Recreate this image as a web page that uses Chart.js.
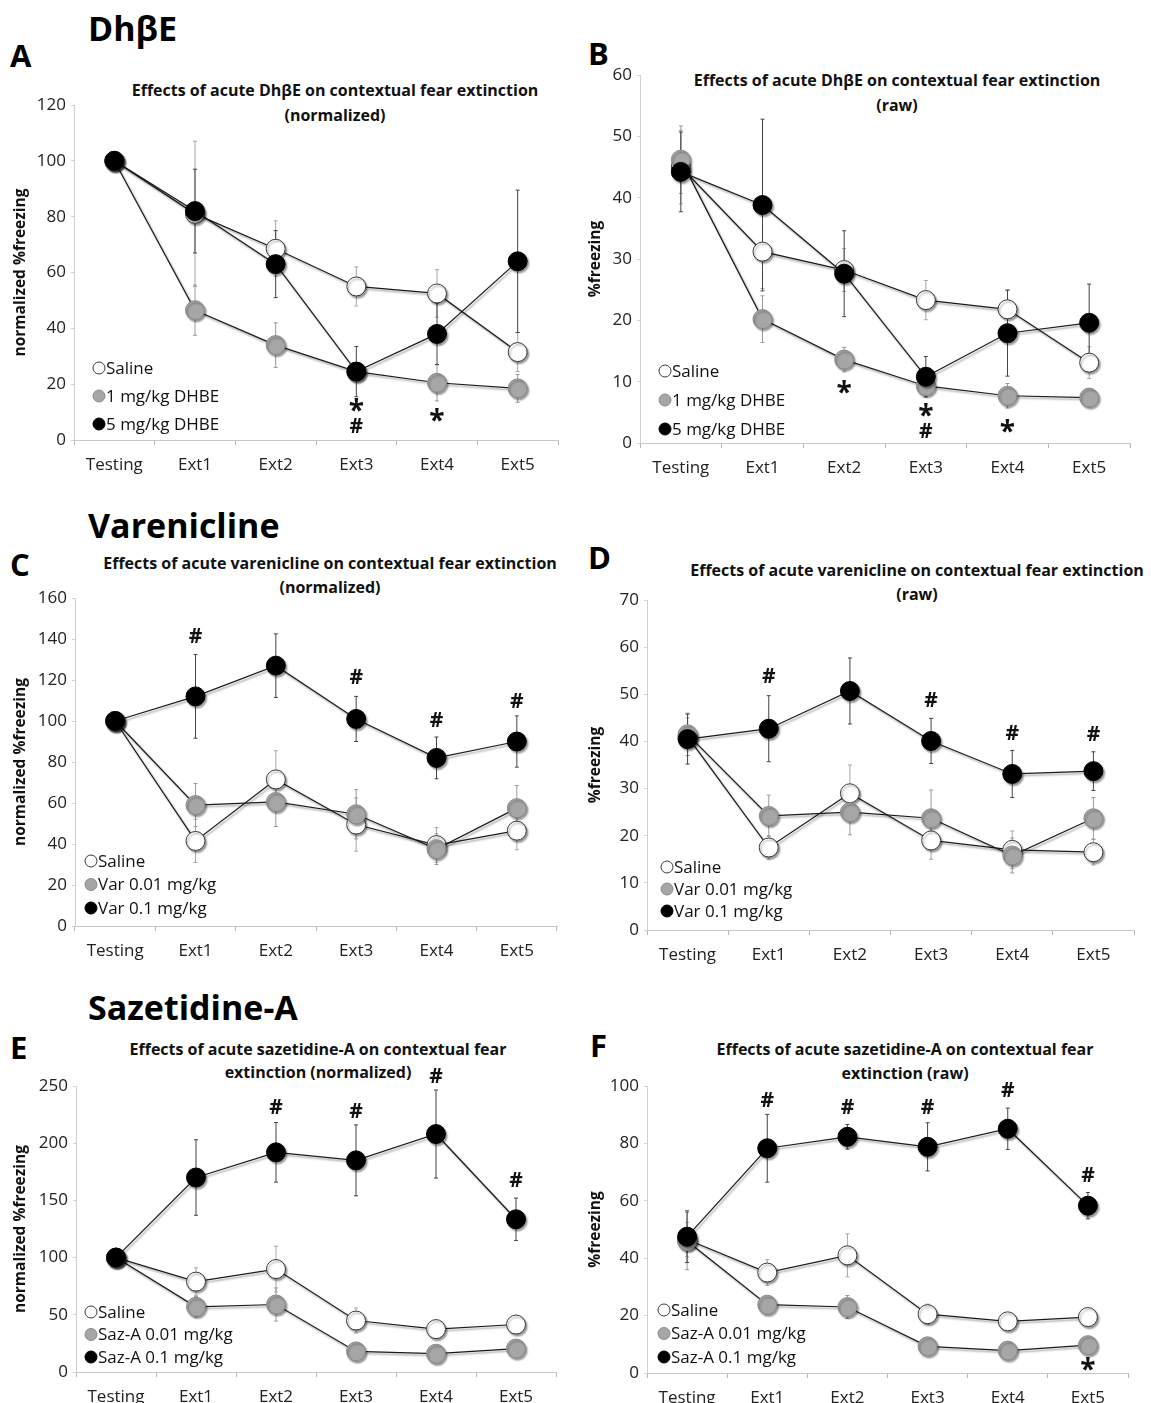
<!DOCTYPE html>
<html>
<head>
<meta charset="utf-8">
<script src="https://cdn.jsdelivr.net/npm/chart.js@4/dist/chart.umd.min.js"></script>
<style>
  body { margin: 0; background: #fff; font-family: "Open Sans", sans-serif; }
  #page { position: relative; width: 1151px; height: 1403px; overflow: hidden; }
  .cv { position: absolute; }
  .txt { position: absolute; white-space: nowrap; color: #000; }
  .head { font-weight: bold; font-size: 34px; transform: translateY(-50%); }
  .letter { font-weight: bold; font-size: 31px; transform: translateY(-50%); }
  .ttl { font-weight: bold; font-size: 16px; transform: translate(-50%, -50%); text-align: center; color: #111; }
</style>
</head>
<body>
<div id="page">
  <div class="txt head" style="left:88px;top:28px">DhβE</div>
  <div class="txt letter" style="left:10px;top:55px">A</div>
  <div class="txt letter" style="left:588px;top:53px">B</div>
  <div class="txt head" style="left:88px;top:525px">Varenicline</div>
  <div class="txt letter" style="left:10px;top:564px">C</div>
  <div class="txt letter" style="left:588px;top:557px">D</div>
  <div class="txt head" style="left:88px;top:1007px">Sazetidine-A</div>
  <div class="txt letter" style="left:10px;top:1047px">E</div>
  <div class="txt letter" style="left:590px;top:1045px">F</div>

  <div class="txt ttl" style="left:335px;top:90px">Effects of acute DhβE on contextual fear extinction</div>
  <div class="txt ttl" style="left:335px;top:115px">(normalized)</div>
  <div class="txt ttl" style="left:897px;top:80px">Effects of acute DhβE on contextual fear extinction</div>
  <div class="txt ttl" style="left:897px;top:105px">(raw)</div>
  <div class="txt ttl" style="left:330px;top:563px">Effects of acute varenicline on contextual fear extinction</div>
  <div class="txt ttl" style="left:330px;top:587px">(normalized)</div>
  <div class="txt ttl" style="left:917px;top:570px">Effects of acute varenicline on contextual fear extinction</div>
  <div class="txt ttl" style="left:917px;top:594px">(raw)</div>
  <div class="txt ttl" style="left:318px;top:1049px">Effects of acute sazetidine-A on contextual fear</div>
  <div class="txt ttl" style="left:318px;top:1072px">extinction (normalized)</div>
  <div class="txt ttl" style="left:905px;top:1049px">Effects of acute sazetidine-A on contextual fear</div>
  <div class="txt ttl" style="left:905px;top:1073px">extinction (raw)</div>

  <canvas id="chartA" class="cv"></canvas>
  <canvas id="chartB" class="cv"></canvas>
  <canvas id="chartC" class="cv"></canvas>
  <canvas id="chartD" class="cv"></canvas>
  <canvas id="chartE" class="cv"></canvas>
  <canvas id="chartF" class="cv"></canvas>
</div>
<script>
// sessions on the x axis
const sessions = ['Testing', 'Ext1', 'Ext2', 'Ext3', 'Ext4', 'Ext5'];

// --- A: DhBE normalized
const salineA = [100, 81, 68.5, 55, 52.5, 31.5];
const salineAErr = [0, 26, 10, 7, 8.5, 7];
const dhbe1A = [100, 46.5, 34, 24.5, 20.5, 18.5];
const dhbe1AErr = [0, 9, 8, 3, 6.5, 5];
const dhbe5A = [100, 82, 63, 24.5, 38, 64];
const dhbe5AErr = [0, 15, 12, 9, 11, 25.5];
const marksA = [['Ext3', '*', 11.7], ['Ext3', '#', 4.8], ['Ext4', '*', 8.1]];

// --- B: DhBE raw
const salineB = [45, 31.2, 28.2, 23.3, 21.8, 13.1];
const salineBErr = [6, 6, 3.5, 3.2, 3.2, 2.6];
const dhbe1B = [46.2, 20.2, 13.6, 9.3, 7.7, 7.4];
const dhbe1BErr = [5.5, 3.8, 2, 1.5, 2, 1.5];
const dhbe5B = [44.2, 38.8, 27.6, 10.8, 17.9, 19.6];
const dhbe5BErr = [6.5, 14, 7, 3.3, 7, 6.3];
const marksB = [['Ext2', '*', 8.8], ['Ext3', '*', 5], ['Ext3', '#', 1.8], ['Ext4', '*', 2.4]];

// --- C: varenicline normalized
const salineC = [100, 41.5, 71.5, 49.5, 39.5, 46.5];
const salineCErr = [0, 10.5, 14, 13, 8.5, 9.3];
const var001C = [100, 59, 60.5, 54.5, 37.5, 57.5];
const var001CErr = [0, 10.5, 12, 12, 7.5, 11];
const var01C = [100, 112, 127, 101, 82, 90];
const var01CErr = [0, 20.4, 15.5, 11, 10.2, 12.5];
const marksC = [['Ext1', '#', 141], ['Ext3', '#', 121], ['Ext4', '#', 100], ['Ext5', '#', 109.5]];

// --- D: varenicline raw
const salineD = [41, 17.5, 29, 19, 17, 16.5];
const salineDErr = [4, 2.5, 6, 4, 4, 2.7];
const var001D = [41.5, 24.2, 25, 23.7, 15.8, 23.7];
const var001DErr = [4.5, 4.4, 4.8, 6, 3.7, 4.4];
const var01D = [40.5, 42.7, 50.7, 40.1, 33.1, 33.7];
const var01DErr = [5.3, 7, 7, 4.8, 5, 4.1];
const marksD = [['Ext1', '#', 53.7], ['Ext3', '#', 48.5], ['Ext4', '#', 41.5], ['Ext5', '#', 41.3]];

// --- E: sazetidine-A normalized
const salineE = [100, 79, 90, 45, 37.5, 41.5];
const salineEErr = [0, 12, 20, 11, 3, 3];
const saz001E = [100, 57, 59, 18, 16, 20.5];
const saz001EErr = [0, 9, 14.5, 3, 3, 3];
const saz01E = [100, 170, 192, 185, 208, 133.5];
const saz01EErr = [0, 33, 26, 31, 38.5, 18.5];
const marksE = [['Ext2', '#', 230.5], ['Ext3', '#', 227.5], ['Ext4', '#', 258], ['Ext5', '#', 167]];

// --- F: sazetidine-A raw
const salineF = [46.5, 35, 41, 20.5, 18, 19.5];
const salineFErr = [6, 4.5, 7.5, 3.5, 3, 1.5];
const saz001F = [46, 23.8, 23, 9.3, 7.8, 9.7];
const saz001FErr = [10, 2, 4, 2.5, 3, 2.5];
const saz01F = [47.5, 78.3, 82.3, 78.8, 85.1, 58.3];
const saz01FErr = [9, 11.8, 4.3, 8.4, 7.2, 4.6];
const marksF = [['Ext1', '#', 94.8], ['Ext2', '#', 92.4], ['Ext3', '#', 92.4], ['Ext4', '#', 98.3], ['Ext5', '#', 68.6], ['Ext5', '*', 2.3]];

const FONT = '"Open Sans", sans-serif';
const styles = [
    { fill: '#ffffff', border: '#3a3a3a', err: '#a8a8a8' },
    { fill: '#a6a6a6', border: '#8a8a8a', err: '#9a9a9a' },
    { fill: '#000000', border: '#000000', err: '#444444' }
];

// error bars under the markers, soft shadow on each series
const errorBarPlugin = {
    id: 'errorBars',
    beforeDatasetsDraw(chart) {
        const ctx = chart.ctx;
        const y = chart.scales.y;
        chart.data.datasets.forEach((ds, di) => {
            const meta = chart.getDatasetMeta(di);
            ctx.save();
            ctx.strokeStyle = ds.errColor;
            ctx.lineWidth = 1;
            meta.data.forEach((pt, i) => {
                const e = ds.errors[i];
                if (!e) return;
                const top = y.getPixelForValue(ds.data[i] + e);
                const bot = y.getPixelForValue(ds.data[i] - e);
                ctx.beginPath();
                ctx.moveTo(pt.x, top); ctx.lineTo(pt.x, bot);
                ctx.moveTo(pt.x - 2, top); ctx.lineTo(pt.x + 2, top);
                ctx.moveTo(pt.x - 2, bot); ctx.lineTo(pt.x + 2, bot);
                ctx.stroke();
            });
            ctx.restore();
        });
    },
    beforeDatasetDraw(chart) {
        const ctx = chart.ctx;
        ctx.save();
        ctx.shadowColor = 'rgba(0,0,0,0.4)';
        ctx.shadowOffsetX = 1.5;
        ctx.shadowOffsetY = 2;
        ctx.shadowBlur = 2;
    },
    afterDatasetDraw(chart) {
        chart.ctx.restore();
    }
};

// * and # significance marks
const sigPlugin = {
    id: 'sigMarks',
    afterDatasetsDraw(chart, args, opts) {
        const ctx = chart.ctx;
        const x = chart.scales.x, y = chart.scales.y;
        ctx.save();
        ctx.fillStyle = '#111';
        ctx.textAlign = 'center';
        ctx.textBaseline = 'middle';
        (opts.marks || []).forEach(([cat, sym, v]) => {
            ctx.font = sym === '*' ? 'bold 28px ' + FONT : 'bold 21px ' + FONT;
            const dy = sym === '*' ? 5 : 0;
            ctx.fillText(sym, x.getPixelForValue(sessions.indexOf(cat)), y.getPixelForValue(v) + dy);
        });
        ctx.restore();
    }
};

// legend drawn inside the plot, bottom-left
const innerLegendPlugin = {
    id: 'innerLegend',
    afterDraw(chart, args, opts) {
        const ctx = chart.ctx;
        ctx.save();
        ctx.font = '17px ' + FONT;
        ctx.textBaseline = 'middle';
        chart.data.datasets.forEach((ds, i) => {
            const cy = opts.y + i * opts.gap;
            ctx.beginPath();
            ctx.arc(opts.x, cy, 6, 0, Math.PI * 2);
            ctx.fillStyle = ds.pointBackgroundColor;
            ctx.fill();
            ctx.lineWidth = 1;
            ctx.strokeStyle = ds.pointBorderColor;
            ctx.stroke();
            ctx.fillStyle = '#111';
            ctx.fillText(ds.label, opts.x + 7, cy + 1);
        });
        ctx.restore();
    }
};

function buildPanel(id, box, area, yMax, yStep, yTitle, names, series, errs, marks, legend) {
    const canvas = document.getElementById(id);
    canvas.style.left = box.x + 'px';
    canvas.style.top = box.y + 'px';
    canvas.width = box.w;
    canvas.height = box.h;

    const datasets = names.map((name, i) => ({
        label: name,
        data: series[i],
        errors: errs[i],
        errColor: styles[i].err,
        borderColor: '#1a1a1a',
        borderWidth: 1.2,
        pointRadius: 9.5,
        pointHoverRadius: 9.5,
        pointBackgroundColor: styles[i].fill,
        pointBorderColor: styles[i].border,
        pointBorderWidth: 1,
        order: 3 - i,
        tension: 0
    }));

    return new Chart(canvas, {
        type: 'line',
        data: { labels: sessions, datasets },
        plugins: [errorBarPlugin, sigPlugin, innerLegendPlugin],
        options: {
            responsive: false,
            animation: false,
            clip: false,
            layout: {
                padding: { left: 0, top: area.t - box.y, right: box.x + box.w - area.r, bottom: 0 }
            },
            plugins: {
                legend: { display: false },
                tooltip: { enabled: false },
                sigMarks: { marks },
                innerLegend: legend
            },
            scales: {
                x: {
                    offset: true,
                    grid: { offset: true, drawOnChartArea: false, drawTicks: true, tickLength: 5, color: '#b5b5b5' },
                    border: { color: '#c8c8c8', width: 1 },
                    ticks: { color: '#222', font: { family: FONT, size: 17 }, padding: 10, maxRotation: 0 },
                    afterFit: s => { s.height = box.y + box.h - area.b; }
                },
                y: {
                    min: 0,
                    max: yMax,
                    grid: { drawOnChartArea: false, drawTicks: true, tickLength: 3, color: '#d0d0d0' },
                    border: { color: '#d0d0d0', width: 1 },
                    ticks: { stepSize: yStep, color: '#222', font: { family: FONT, size: 17 }, padding: 5 },
                    title: {
                        display: true,
                        text: yTitle,
                        color: '#111',
                        font: { family: FONT, size: 15.5, weight: 'bold' },
                        padding: { top: 11, bottom: 0 }
                    },
                    afterFit: s => { s.width = area.l - box.x; }
                }
            }
        }
    });
}

document.fonts.load('15px "Open Sans"').then(() => document.fonts.load('bold 15px "Open Sans"')).finally(() => {
    buildPanel('chartA', { x: 0, y: 60, w: 575, h: 430 }, { l: 74, t: 105, r: 558, b: 440 },
        120, 20, 'normalized %freezing',
        ['Saline', '1 mg/kg DHBE', '5 mg/kg DHBE'],
        [salineA, dhbe1A, dhbe5A], [salineAErr, dhbe1AErr, dhbe5AErr], marksA,
        { x: 99, y: 308, gap: 28 });

    buildPanel('chartB', { x: 575, y: 40, w: 576, h: 450 }, { l: 640, t: 75, r: 1130, b: 443 },
        60, 10, '%freezing',
        ['Saline', '1 mg/kg DHBE', '5 mg/kg DHBE'],
        [salineB, dhbe1B, dhbe5B], [salineBErr, dhbe1BErr, dhbe5BErr], marksB,
        { x: 90, y: 331, gap: 29 });

    buildPanel('chartC', { x: 0, y: 560, w: 575, h: 410 }, { l: 75, t: 598, r: 557, b: 926 },
        160, 20, 'normalized %freezing',
        ['Saline', 'Var 0.01 mg/kg', 'Var 0.1 mg/kg'],
        [salineC, var001C, var01C], [salineCErr, var001CErr, var01CErr], marksC,
        { x: 91, y: 301, gap: 23.5 });

    buildPanel('chartD', { x: 575, y: 560, w: 576, h: 410 }, { l: 647, t: 600, r: 1134, b: 930 },
        70, 10, '%freezing',
        ['Saline', 'Var 0.01 mg/kg', 'Var 0.1 mg/kg'],
        [salineD, var001D, var01D], [salineDErr, var001DErr, var01DErr], marksD,
        { x: 92, y: 307, gap: 22 });

    buildPanel('chartE', { x: 0, y: 1040, w: 575, h: 363 }, { l: 76, t: 1086, r: 556, b: 1372 },
        250, 50, 'normalized %freezing',
        ['Saline', 'Saz-A 0.01 mg/kg', 'Saz-A 0.1 mg/kg'],
        [salineE, saz001E, saz01E], [salineEErr, saz001EErr, saz01EErr], marksE,
        { x: 91, y: 272, gap: 22.5 });

    buildPanel('chartF', { x: 575, y: 1040, w: 576, h: 363 }, { l: 647, t: 1086, r: 1128, b: 1373 },
        100, 20, '%freezing',
        ['Saline', 'Saz-A 0.01 mg/kg', 'Saz-A 0.1 mg/kg'],
        [salineF, saz001F, saz01F], [salineFErr, saz001FErr, saz01FErr], marksF,
        { x: 89, y: 270, gap: 23.5 });
});
</script>
</body>
</html>
